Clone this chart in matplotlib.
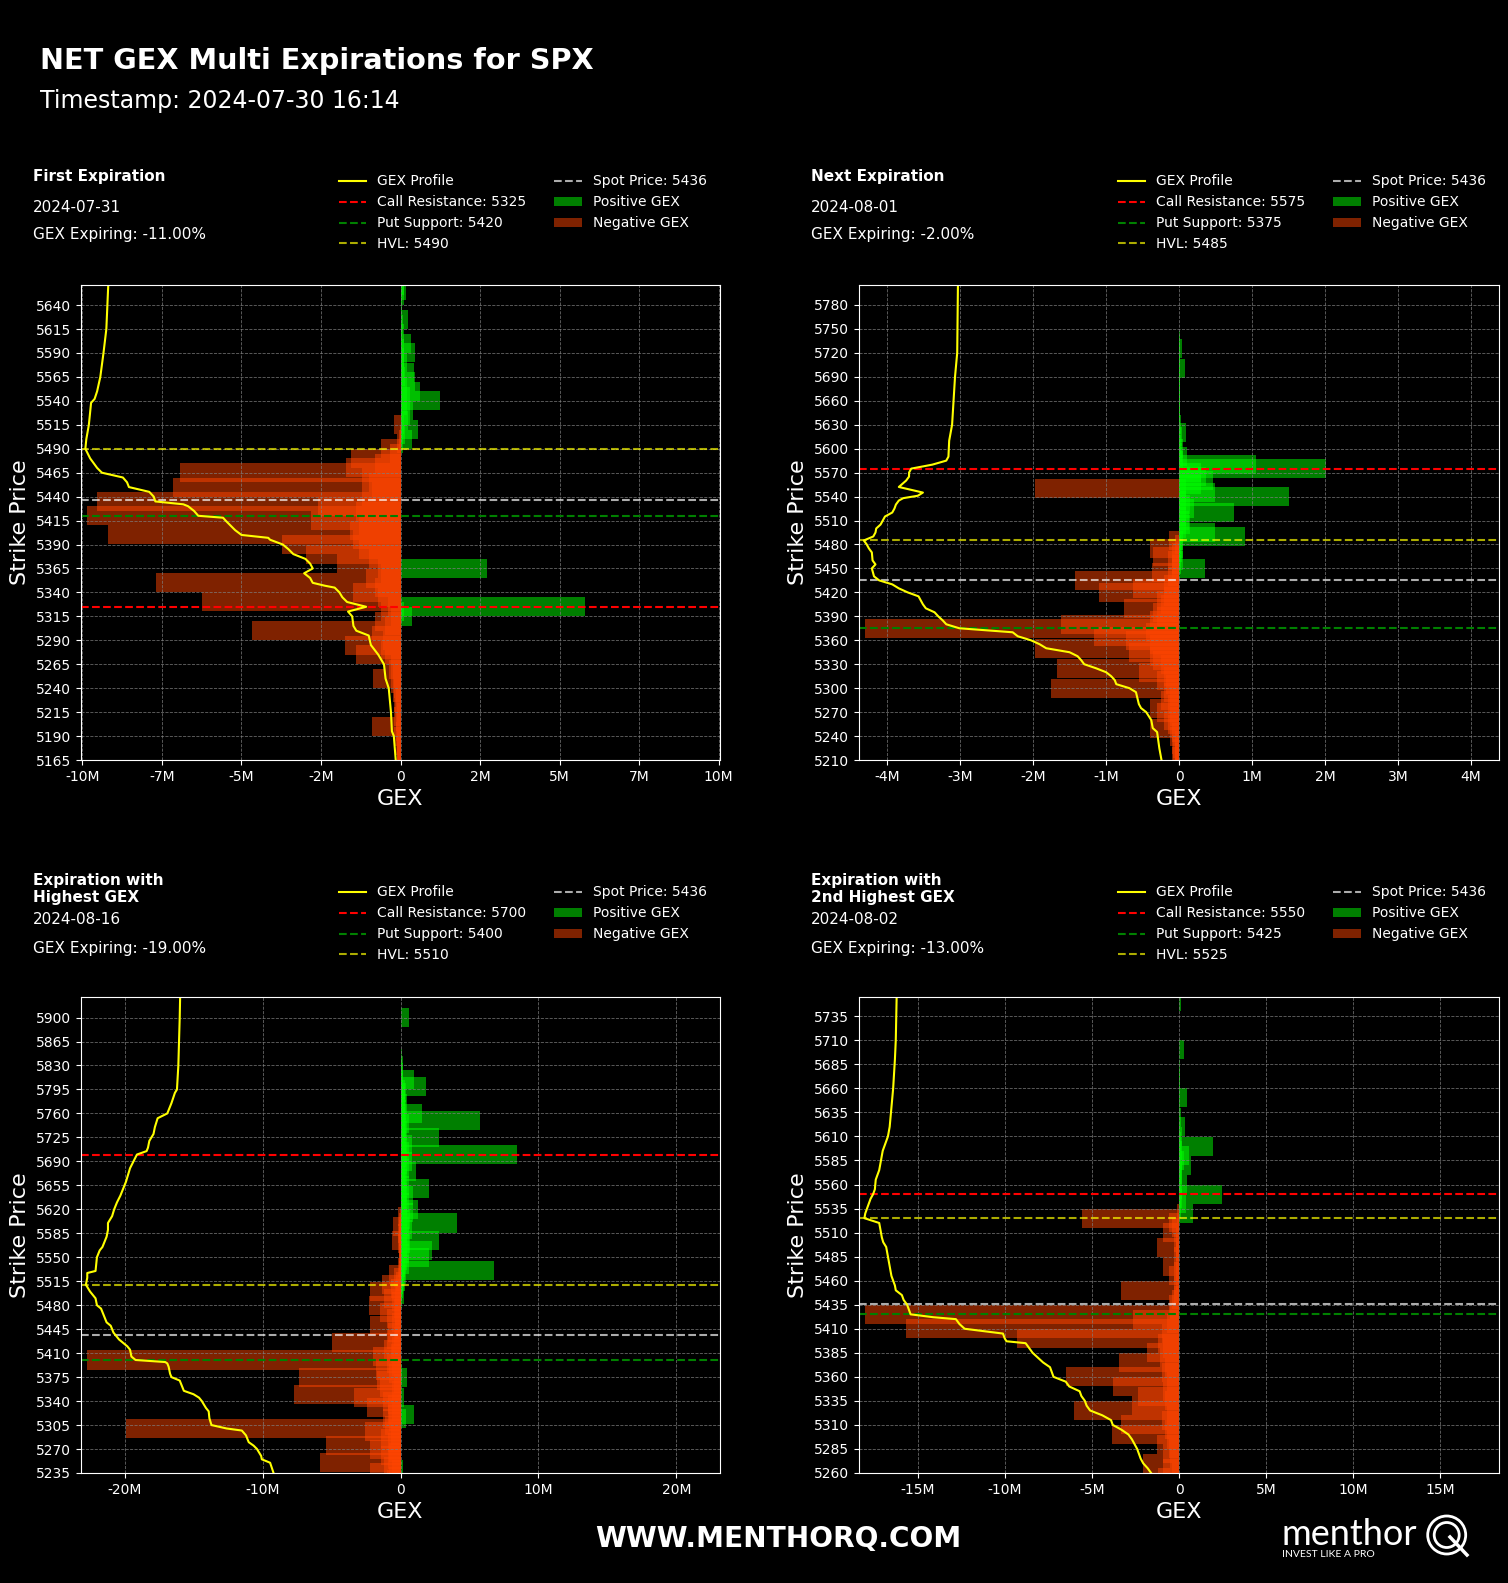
import numpy as np
import matplotlib.pyplot as plt
from matplotlib.patches import Patch, Circle
from matplotlib.lines import Line2D
from matplotlib.ticker import FuncFormatter, MultipleLocator

W, H = 1508, 1583

# ---- panel meta ----
titles = ["First Expiration", "Next Expiration", "Expiration with\nHighest GEX", "Expiration with\n2nd Highest GEX"]
exp_dates = ["2024-07-31", "2024-08-01", "2024-08-16", "2024-08-02"]
gex_expiring = [-11.0, -2.0, -19.0, -13.0]
call_res = [5325, 5575, 5700, 5550]
put_sup = [5420, 5375, 5400, 5425]
hvl = [5490, 5485, 5510, 5525]
spot = 5436
y_lo = [5165, 5210, 5235, 5260]
y_hi = [5661, 5805, 5930, 5755]
y_step = [25, 30, 35, 25]
x_step = [2.5, 1, 10, 5]

# ---- GEX by strike (millions) ----
p1_neg_strikes = np.arange(5150, 5520, 5)
p1_neg = [-0.05, -0.10, -0.08, -0.10, -0.12, -0.10, -0.15, -0.12, -0.20, -0.15,
          -0.91, -0.15, -0.20, -0.12, -0.18, -0.20, -0.15, -0.25, -0.20, -0.30,
          -0.88, -0.25, -0.35, -0.30, -0.50, -1.39, -0.60, -1.73, -0.55, -0.90,
          -4.66, -0.50, -0.80, -0.30, -0.60, -0.40, -6.24, -0.70, -1.50, -0.80,
          -7.69, -1.10, -0.60, -0.70, -2.00, -1.00, -2.96, -1.30, -3.72, -1.50,
          -9.20, -1.60, -1.30, -2.80, -9.85, -1.40, -2.60, -9.55, -1.20, -0.90,
          -7.15, -1.00, -1.20, -6.93, -1.70, -0.80, -1.57, -0.32, -0.60, -0.10,
          -0.05, -0.03, 0.0, -0.20]
p1_pos_strikes = [5315, 5320, 5325, 5365] + list(range(5495, 5665, 5))
p1_pos = [0.35, 0.10, 5.79, 2.71,
          0.08, 0.36, 0.15, 0.56, 0.10, 0.25, 0.30, 0.40, 0.20, 1.24,
          0.30, 0.61, 0.20, 0.46, 0.15, 0.43, 0.10, 0.20, 0.10, 0.46,
          0.10, 0.33, 0.05, 0.10, 0.05, 0.08, 0.24, 0.03, 0.05, 0.02,
          0.05, 0.10, 0.18, 0.12]

p2_neg_strikes = list(range(5200, 5490, 5)) + [5550]
p2_neg = [-0.05, -0.08, -0.06, -0.10, -0.05, -0.08, -0.10, -0.06, -0.12, -0.10,
          -0.40, -0.15, -0.20, -0.12, -0.30, -0.40, -0.15, -0.25, -0.12, -0.20,
          -1.75, -0.18, -0.30, -0.20, -0.55, -1.67, -0.25, -0.35, -0.40, -0.69,
          -1.98, -0.40, -0.73, -1.17, -0.45, -4.30, -1.62, -0.40, -0.30, -0.35,
          -0.76, -0.25, -0.30, -0.20, -1.10, -0.63, -0.20, -1.43, -0.15, -0.37,
          -0.10, -0.10, -0.15, -0.35, -0.10, -0.40, -0.05, -0.14,
          -1.98]
p2_pos_strikes = np.arange(5450, 5765, 5)
p2_pos = [0.35, 0.03, 0.05, 0.02, 0.04, 0.06, 0.03, 0.05, 0.90, 0.50,
          0.10, 0.15, 0.14, 0.10, 0.75, 0.20, 0.15, 0.10, 1.51, 0.50,
          0.10, 0.30, 0.46, 0.37, 0.30, 2.02, 1.06, 0.05, 0.11, 0.04,
          0.05, 0.03, 0.02, 0.04, 0.09, 0.02, 0.03, 0.01, 0.02, 0.01,
          0.02, 0.01, 0.02, 0.01, 0.01, 0.01, 0.02, 0.01, 0.02, 0.02,
          0.08, 0.01, 0.01, 0.01, 0.02, 0.04, 0.01, 0.01, 0.005, 0.005,
          0.005, 0.005, 0.005]

p3_neg_strikes = np.arange(5225, 5615, 5)
p3_neg = [-1.0, -0.8, -2.2, -0.6, -1.2, -5.8, -0.9, -1.4, -0.8, -2.2,
          -5.4, -0.9, -1.4, -0.7, -2.6, -19.9, -1.1, -0.8, -1.3, -0.9,
          -0.6, -2.4, -0.9, -1.3, -3.4, -7.7, -0.6, -1.5, -0.5, -1.7,
          -7.34, -0.8, -1.8, -0.6, -1.0, -22.7, -2.0, -0.7, -1.2, -0.6,
          -4.95, -1.0, -0.5, -0.9, -0.4, -2.2, -0.6, -1.0, -0.4, -1.5,
          -0.5, -2.27, -0.6, -1.2, -0.4, -2.2, -0.7, -1.33, -0.3, -0.5,
          -0.82, -0.1, -0.15, -0.05, -0.1, -0.05, -0.1, -0.05, -0.1, -0.2,
          -0.6, -0.1, -0.2, -0.1, -0.53, -0.1, -0.05, -0.2]
p3_pos_strikes = [5240, 5315, 5320, 5345, 5375, 5380] + list(range(5490, 5850, 5)) + [5860, 5875, 5890, 5900, 5915]
p3_pos = [0.20, 0.40, 1.00, 0.27, 0.50, 0.10,
          0.10, 0.27, 0.10, 0.15, 0.20, 0.30, 0.25, 0.40, 6.80, 0.30,
          0.60, 0.50, 2.08, 0.60, 2.27, 0.50, 0.70, 2.80, 0.60, 0.50,
          0.80, 0.60, 4.10, 0.70, 0.50, 0.90, 1.28, 0.50, 0.60, 0.40,
          0.90, 0.50, 2.08, 0.60, 0.40, 0.50, 0.30, 1.10, 0.60, 0.50,
          0.80, 0.40, 8.45, 0.60, 0.50, 0.80, 0.40, 2.80, 0.30, 0.50,
          0.40, 0.60, 5.77, 0.30, 1.57, 0.40, 0.30, 0.50, 0.20, 0.30,
          0.40, 0.30, 1.86, 0.20, 0.95, 0.10, 0.20, 0.10, 0.15, 0.05,
          0.10, 0.05,
          0.05, 0.03, 0.03, 0.63, 0.02]

p4_neg_strikes = np.arange(5250, 5535, 5)
p4_neg = [-0.6, -1.2, -0.4, -0.9, -2.09, -0.5, -0.9, -0.6, -1.28, -0.7,
          -3.87, -0.8, -3.35, -1.0, -0.7, -6.05, -2.7, -0.8, -2.38, -0.9,
          -3.8, -0.7, -6.5, -1.0, -0.8, -3.47, -1.1, -1.86, -0.9, -1.2,
          -9.27, -1.0, -15.65, -0.7, -2.66, -18.0, -0.5, -0.6, -0.4, -0.3,
          -3.3, -0.3, -0.2, -0.6, -0.3, -0.9, -0.2, -0.3, -0.2, -1.28,
          -0.3, -0.2, -0.9, -0.4, -0.6, -5.59, -0.1]
p4_pos_strikes = list(range(5530, 5625, 5)) + [5630, 5640, 5650, 5660, 5670, 5680, 5690, 5700, 5710, 5720, 5730, 5740, 5750]
p4_pos = [0.82, 0.10, 0.40, 0.20, 2.45, 0.20, 0.44, 0.10, 0.20, 0.15,
          0.67, 0.30, 0.55, 0.20, 1.93, 0.10, 0.15, 0.05, 0.33,
          0.10, 0.05, 0.44, 0.05, 0.03, 0.05, 0.02, 0.27, 0.02, 0.01, 0.01, 0.02, 0.13]

# ---- GEX profile (strike, millions) ----
p1_prof_y = [5661, 5615, 5590, 5565, 5550, 5542, 5538, 5515, 5500, 5490, 5480, 5470, 5465, 5460, 5455, 5450,
             5445, 5440, 5435, 5432, 5430, 5425, 5420, 5418, 5415, 5405, 5400, 5397, 5395, 5390, 5385, 5380,
             5375, 5370, 5365, 5360, 5355, 5350, 5347, 5345, 5340, 5335, 5330, 5325, 5320, 5315, 5305, 5300,
             5295, 5285, 5275, 5265, 5250, 5240, 5215, 5195, 5190, 5165]
p1_prof_x = [-9.19, -9.25, -9.34, -9.44, -9.54, -9.62, -9.73, -9.80, -9.88, -9.91, -9.76, -9.54, -9.39, -8.73,
             -8.60, -8.54, -7.90, -7.76, -7.71, -6.83, -6.68, -6.49, -6.36, -5.58, -5.50, -5.20, -5.00, -4.16,
             -4.10, -3.70, -3.52, -3.37, -2.99, -2.84, -2.76, -3.03, -2.84, -2.76, -2.38, -2.07, -1.92, -1.83,
             -1.68, -1.08, -1.65, -1.52, -1.48, -1.39, -1.00, -0.93, -0.70, -0.52, -0.47, -0.37, -0.30, -0.27,
             -0.21, -0.15]
p2_prof_y = [5805, 5720, 5690, 5660, 5630, 5610, 5590, 5585, 5580, 5575, 5570, 5565, 5560, 5552, 5545, 5541,
             5538, 5535, 5530, 5525, 5520, 5515, 5505, 5500, 5495, 5490, 5485, 5480, 5475, 5470, 5460, 5455,
             5450, 5440, 5435, 5430, 5425, 5420, 5415, 5405, 5400, 5395, 5390, 5385, 5380, 5375, 5370, 5365,
             5360, 5355, 5350, 5345, 5340, 5335, 5330, 5325, 5320, 5315, 5310, 5305, 5300, 5295, 5280, 5275,
             5270, 5260, 5250, 5245, 5225, 5210]
p2_prof_x = [-3.03, -3.04, -3.07, -3.09, -3.11, -3.15, -3.16, -3.19, -3.38, -3.67, -3.70, -3.70, -3.74, -3.84,
             -3.51, -3.58, -3.78, -3.84, -3.88, -3.90, -3.93, -4.03, -4.09, -4.15, -4.16, -4.19, -4.32, -4.28,
             -4.25, -4.21, -4.20, -4.16, -4.21, -4.18, -4.11, -3.93, -3.84, -3.72, -3.57, -3.51, -3.47, -3.35,
             -3.30, -3.24, -3.19, -3.01, -2.28, -2.21, -2.03, -1.91, -1.82, -1.50, -1.39, -1.34, -1.30, -1.14,
             -1.00, -0.93, -0.88, -0.86, -0.68, -0.59, -0.55, -0.52, -0.45, -0.38, -0.36, -0.30, -0.27, -0.24]
p3_prof_y = [5930, 5900, 5830, 5795, 5790, 5775, 5760, 5753, 5740, 5730, 5720, 5710, 5705, 5700, 5690, 5680,
             5660, 5650, 5640, 5630, 5620, 5610, 5600, 5590, 5580, 5575, 5565, 5560, 5550, 5540, 5530, 5527,
             5520, 5510, 5500, 5490, 5480, 5475, 5465, 5455, 5450, 5440, 5430, 5420, 5415, 5405, 5400, 5397,
             5395, 5390, 5380, 5375, 5370, 5360, 5355, 5350, 5345, 5340, 5330, 5325, 5315, 5305, 5300, 5297,
             5290, 5280, 5275, 5270, 5260, 5255, 5250, 5235]
p3_prof_x = [-15.97, -16.0, -16.1, -16.2, -16.35, -16.6, -16.9, -17.6, -17.8, -17.9, -18.2, -18.3, -18.4, -19.1,
             -19.35, -19.6, -19.9, -20.1, -20.3, -20.55, -20.75, -20.9, -21.2, -21.2, -21.3, -21.4, -21.6, -21.8,
             -22.0, -22.05, -22.1, -22.7, -22.7, -22.8, -22.5, -22.1, -22.0, -21.7, -21.5, -21.3, -21.0, -20.8,
             -20.4, -19.8, -19.6, -19.5, -19.2, -17.05, -16.9, -16.8, -16.7, -16.6, -16.0, -15.8, -15.7, -15.0,
             -14.6, -14.4, -14.1, -13.9, -13.85, -13.7, -12.6, -11.5, -11.2, -11.0, -10.65, -10.4, -10.1, -10.05,
             -9.45, -9.2]
p4_prof_y = [5755, 5710, 5690, 5660, 5640, 5620, 5610, 5600, 5595, 5585, 5575, 5565, 5555, 5550, 5545, 5540,
             5535, 5530, 5525, 5520, 5515, 5505, 5500, 5495, 5485, 5480, 5475, 5470, 5465, 5460, 5455, 5450,
             5445, 5440, 5435, 5430, 5425, 5422, 5420, 5415, 5410, 5405, 5400, 5397, 5395, 5390, 5385, 5380,
             5375, 5370, 5365, 5360, 5355, 5350, 5345, 5340, 5335, 5330, 5325, 5320, 5315, 5310, 5305, 5300,
             5295, 5290, 5285, 5280, 5275, 5270, 5265, 5260]
p4_prof_x = [-16.2, -16.25, -16.3, -16.4, -16.5, -16.6, -16.7, -16.9, -17.0, -17.1, -17.2, -17.4, -17.45, -17.55,
             -17.7, -17.8, -17.9, -18.0, -18.05, -17.2, -17.15, -17.05, -16.97, -16.8, -16.7, -16.65, -16.6,
             -16.55, -16.5, -16.4, -16.3, -16.25, -15.9, -15.8, -15.6, -15.5, -15.4, -14.1, -12.8, -12.6, -12.3,
             -10.1, -10.0, -9.9, -8.8, -8.6, -8.4, -8.1, -7.8, -7.4, -7.3, -7.2, -6.5, -6.3, -5.7, -5.6, -5.4,
             -5.3, -5.1, -4.4, -3.9, -3.8, -3.3, -2.9, -2.7, -2.55, -2.4, -2.3, -2.2, -2.05, -1.8, -1.6]

neg_strikes = [p1_neg_strikes, p2_neg_strikes, p3_neg_strikes, p4_neg_strikes]
neg_vals = [p1_neg, p2_neg, p3_neg, p4_neg]
pos_strikes = [p1_pos_strikes, p2_pos_strikes, p3_pos_strikes, p4_pos_strikes]
pos_vals = [p1_pos, p2_pos, p3_pos, p4_pos]
prof_y = [p1_prof_y, p2_prof_y, p3_prof_y, p4_prof_y]
prof_x = [p1_prof_x, p2_prof_x, p3_prof_x, p4_prof_x]


def px(x, y):
    return x / W, 1 - y / H


fig = plt.figure(figsize=(W / 100, H / 100), dpi=100, facecolor='black')

# axes rectangles in pixels: left, top, right, bottom
rects = [(81, 285, 720, 760), (859, 285, 1499, 760), (81, 997, 720, 1473), (859, 997, 1499, 1473)]
head_x = [33, 811, 33, 811]
leg_x = [326, 1105, 326, 1105]
head_top = [177, 177, 889, 889]
date_y = [207, 207, 919, 919]
gexp_y = [235, 235, 948, 948]
leg_top = [162, 162, 873, 873]

fmt = FuncFormatter(lambda v, p: '0' if abs(v) < 1e-9 else f'{int(v)}M')

for i in range(4):
    l, t, r, b = rects[i]
    ax = fig.add_axes([l / W, 1 - b / H, (r - l) / W, (b - t) / H])
    ax.set_facecolor('black')
    bar_h = 0.04 * (y_hi[i] - y_lo[i])
    ax.barh(neg_strikes[i], neg_vals[i], height=bar_h, color='orangered', alpha=0.5, linewidth=0)
    ax.barh(pos_strikes[i], pos_vals[i], height=bar_h, color='lime', alpha=0.5, linewidth=0)
    ax.axhline(call_res[i], color='red', ls='--', lw=1.5)
    ax.axhline(put_sup[i], color='green', ls='--', lw=1.5)
    ax.axhline(hvl[i], color='yellow', alpha=0.68, ls='--', lw=1.5)
    ax.axhline(spot, color='white', alpha=0.68, ls='--', lw=1.5)
    ax.plot(prof_x[i], prof_y[i], color='yellow', lw=1.5)

    lim = 1.02 * max(max(abs(v) for v in neg_vals[i]), max(pos_vals[i]))
    ax.set_xlim(-lim, lim)
    ax.set_ylim(y_lo[i], y_hi[i])
    ax.set_yticks(np.arange(y_lo[i], y_hi[i], y_step[i]))
    ax.xaxis.set_major_locator(MultipleLocator(x_step[i]))
    ax.xaxis.set_major_formatter(fmt)
    ax.grid(True, color='gray', ls='--', lw=0.6, alpha=0.8)
    ax.tick_params(colors='white', labelsize=10)
    for s in ax.spines.values():
        s.set_color('white')
    ax.set_xlabel('GEX', color='white', fontsize=16)
    ax.set_ylabel('Strike Price', color='white', fontsize=16)

    handles = [Line2D([], [], color='yellow', lw=1.5),
               Line2D([], [], color='red', ls='--', lw=1.5),
               Line2D([], [], color='green', ls='--', lw=1.5),
               Line2D([], [], color='yellow', alpha=0.68, ls='--', lw=1.5),
               Line2D([], [], color='white', alpha=0.68, ls='--', lw=1.5),
               Patch(facecolor='lime', alpha=0.5),
               Patch(facecolor='orangered', alpha=0.5)]
    labels = ['GEX Profile', f'Call Resistance: {call_res[i]}', f'Put Support: {put_sup[i]}',
              f'HVL: {hvl[i]}', f'Spot Price: {spot}', 'Positive GEX', 'Negative GEX']
    fig.legend(handles, labels, ncol=2, loc='upper left', bbox_to_anchor=px(leg_x[i], leg_top[i]),
               bbox_transform=fig.transFigure, frameon=False, fontsize=10, labelcolor='white')

    fig.text(*px(head_x[i], head_top[i]), titles[i], color='white', fontsize=11, fontweight='bold',
             ha='left', va='center')
    fig.text(*px(head_x[i], date_y[i]), exp_dates[i], color='white', fontsize=11, ha='left', va='center')
    fig.text(*px(head_x[i], gexp_y[i]), f'GEX Expiring: {gex_expiring[i]:.2f}%', color='white', fontsize=11,
             ha='left', va='center')

fig.text(*px(40, 61), 'NET GEX Multi Expirations for SPX', color='white', fontsize=20.7, fontweight='bold',
         ha='left', va='center')
fig.text(*px(40, 101), 'Timestamp: 2024-07-30 16:14', color='white', fontsize=17, ha='left', va='center')
fig.text(*px(778, 1539), 'WWW.MENTHORQ.COM', color='white', fontsize=20.2, fontweight='bold',
         ha='center', va='center')

# logo
fig.text(*px(1281, 1545), 'menthor', color='white', fontsize=26, family=['Lato', 'DejaVu Sans'],
         ha='left', va='baseline')
fig.text(*px(1282, 1557), 'INVEST LIKE A PRO', color='white', fontsize=7.5, family=['Lato', 'DejaVu Sans'],
         ha='left', va='baseline')
for rad in (0.19, 0.125):
    fig.patches.append(Circle((14.467, 0.48), rad, transform=fig.dpi_scale_trans, fill=False,
                              edgecolor='white', lw=2))
fig.lines.append(Line2D([14.50, 14.67], [0.46, 0.28], transform=fig.dpi_scale_trans, color='white', lw=2.5))

fig.savefig('out.png', dpi=100, facecolor='black')
